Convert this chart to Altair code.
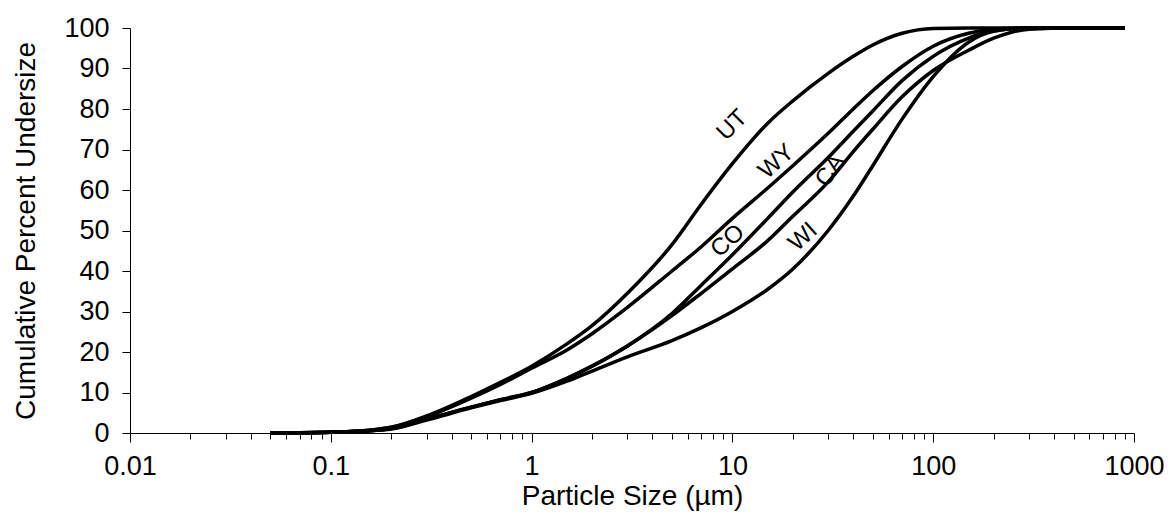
import altair as alt
import pandas as pd

# Particle sizes (µm) at which each curve is sampled
sizes = [0.05, 0.07, 0.1, 0.15, 0.2, 0.3, 0.5, 0.7, 1, 1.5, 2, 3, 5, 7, 10,
         15, 20, 30, 40, 50, 70, 100, 150, 200, 300, 500, 900]

# Cumulative percent undersize for each sample
ut = [0, 0.05, 0.2, 0.6, 1.4, 4.2, 9.0, 12.5, 16.5, 22.0, 26.5, 34.5, 46.5, 56.5, 66.5,
      76.5, 82.0, 88.8, 93.0, 95.8, 98.7, 99.9, 100, 100, 100, 100, 100]
wy = [0, 0.05, 0.2, 0.6, 1.4, 4.0, 8.6, 12.0, 16.0, 20.5, 24.5, 31.0, 40.0, 46.0, 53.0,
      60.5, 66.0, 74.0, 80.0, 84.5, 90.5, 95.5, 98.7, 99.7, 100, 100, 100]
co = [0, 0.05, 0.2, 0.5, 1.1, 3.4, 6.4, 8.2, 10.0, 13.5, 16.5, 21.5, 29.5, 36.5, 44.0,
      53.0, 59.5, 68.0, 74.5, 79.5, 87.0, 93.0, 97.5, 99.3, 100, 100, 100]
ca = [0, 0.05, 0.2, 0.5, 1.1, 3.4, 6.4, 8.2, 10.0, 13.5, 16.5, 21.5, 29.0, 34.5, 40.5,
      47.5, 53.5, 62.0, 69.5, 75.0, 83.0, 89.5, 94.5, 97.5, 99.7, 100, 100]
wi = [0, 0.05, 0.2, 0.5, 1.0, 3.2, 6.2, 8.0, 9.8, 12.8, 15.3, 18.8, 22.8, 26.0, 30.0,
      35.5, 40.5, 50.0, 58.5, 66.0, 77.5, 88.0, 96.5, 99.2, 100, 100, 100]

series_names = ["UT", "WY", "CO", "CA", "WI"]
series_values = [ut, wy, co, ca, wi]

# Curve labels (position in data units, rotation)
label_text = ["UT", "WY", "CO", "CA", "WI"]
label_x = [10.0, 16.6, 9.5, 30.8, 22.5]
label_y = [76.0, 67.0, 47.4, 64.8, 48.4]
label_angle = [315, 318, 318, 305, 318]

# Axis tick values
x_ticks = [k * 10.0 ** e for e in range(-2, 3) for k in range(1, 10)] + [1000.0]
y_ticks = list(range(0, 101, 10))

rows = []
for name, vals in zip(series_names, series_values):
    for s, v in zip(sizes, vals):
        rows.append({"name": name, "size": s, "pct": v})
df = pd.DataFrame(rows)

labels_df = pd.DataFrame({"text": label_text, "size": label_x,
                          "pct": label_y, "ang": label_angle})

is_decade = "abs(log(datum.value)/LN10 - round(log(datum.value)/LN10)) < 0.001"

x_enc = alt.X(
    "size:Q",
    scale=alt.Scale(type="log", domain=[0.01, 1000], nice=False),
    axis=alt.Axis(
        values=x_ticks,
        labelExpr=f"{is_decade} ? format(datum.value, '~g') : ''",
        labelOverlap=False,
        labelFlush=False,
        labelBound=False,
        tickSize={"condition": {"test": is_decade, "value": 9}, "value": 6},
        labelPadding=11,
        titlePadding=3,
    ),
    title="Particle Size (µm)",
)
y_enc = alt.Y(
    "pct:Q",
    scale=alt.Scale(domain=[0, 100], nice=False),
    axis=alt.Axis(values=y_ticks, tickSize=8, labelPadding=13, titlePadding=23),
    title="Cumulative Percent Undersize",
)

lines = alt.Chart(df).mark_line(
    color="black", strokeWidth=3.5, interpolate="monotone"
).encode(x=x_enc, y=y_enc, detail="name:N")

texts = alt.Chart(labels_df).mark_text(
    font="Liberation Sans", fontSize=24, color="black"
).encode(
    x="size:Q",
    y="pct:Q",
    text="text:N",
    angle=alt.Angle("ang:Q", scale=None),
)

chart = alt.layer(lines, texts).properties(
    width=1004,
    height=405,
    autosize=alt.AutoSizeParams(type="none"),
    padding={"left": 122, "top": 20, "right": 30, "bottom": 80},
).configure_view(stroke=None).configure_axis(
    grid=False,
    labelFont="Liberation Sans",
    titleFont="Liberation Sans",
    labelFontSize=27,
    titleFontSize=28,
    titleFontWeight="normal",
    labelColor="black",
    titleColor="black",
    domainColor="black",
    tickColor="black",
)

chart.save("out.html", embed_options={"renderer": "svg", "actions": False})
